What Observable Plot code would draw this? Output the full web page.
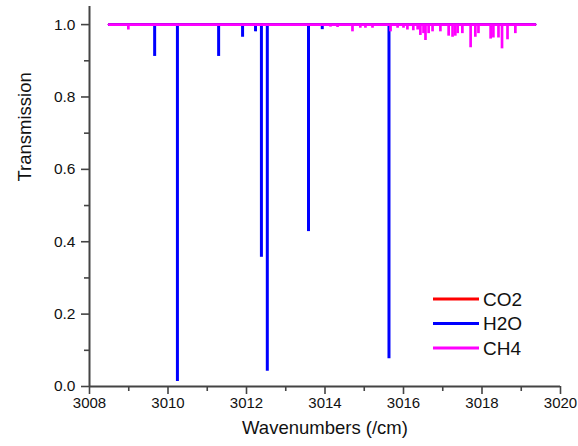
<!DOCTYPE html>
<html>
<head>
<meta charset="utf-8">
<script src="https://cdn.jsdelivr.net/npm/d3@7"></script>
<script src="https://cdn.jsdelivr.net/npm/@observablehq/plot@0.6"></script>
<style>
  html, body { margin: 0; padding: 0; background: #fff; }
  #wrap { position: relative; width: 578px; height: 446px; font-family: "Liberation Sans", Arial, sans-serif; }
  #legend { position: absolute; left: 430px; top: 287px; }
</style>
</head>
<body>
<div id="wrap"><div id="chart"></div><div id="legend"></div></div>
<script>
// Species and colours
const species = ["CO2", "H2O", "CH4"];
const colors = ["#ff0000", "#0000ff", "#ff00ff"];

// Spectral window covered by the simulation (baseline transmission = 1)
const rangeStart = [3008.5, 3008.5, 3008.5];
const rangeEnd = [3019.35, 3019.35, 3019.35];
const baseline = 1.0;

// CO2: no visible absorption lines in this window
const co2Wn = [];
const co2T = [];

// H2O absorption lines (wavenumber, minimum transmission)
const h2oWn = [3009.66, 3010.24, 3011.29, 3011.90, 3012.23, 3012.38, 3012.53, 3013.58, 3013.93, 3015.63];
const h2oT  = [0.912,   0.014,   0.912,   0.965,   0.98,    0.357,   0.042,   0.428,   0.986,   0.077];

// CH4 absorption lines
const ch4Wn = [3008.99, 3010.05, 3010.85, 3011.60, 3012.90, 3014.14, 3014.32, 3014.70, 3014.90, 3015.03,
               3015.21, 3015.67, 3015.85, 3016.00, 3016.10, 3016.25, 3016.36, 3016.43, 3016.51, 3016.56,
               3016.64, 3016.74, 3016.94, 3017.15, 3017.25, 3017.32, 3017.38, 3017.50, 3017.71, 3017.83,
               3017.91, 3018.22, 3018.29, 3018.42, 3018.51, 3018.65, 3018.85];
const ch4T  = [0.985, 0.995, 0.995, 0.995, 0.995, 0.993, 0.992, 0.98, 0.99, 0.99,
               0.99, 0.98, 0.99, 0.99, 0.985, 0.983, 0.985, 0.97, 0.975, 0.956,
               0.975, 0.98, 0.98, 0.968, 0.965, 0.968, 0.975, 0.975, 0.936, 0.965,
               0.975, 0.96, 0.963, 0.963, 0.933, 0.958, 0.975];

// Axis ticks
const xTicks = [3008, 3010, 3012, 3014, 3016, 3018, 3020];
const xMinor = [3009, 3011, 3013, 3015, 3017, 3019];
const yTicks = [0, 0.2, 0.4, 0.6, 0.8, 1.0];
const yMinor = [0.1, 0.3, 0.5, 0.7, 0.9];
const xDomain = [3008, 3020];
const yDomain = [0, 1.05];

const linesOf = (wn, t, name) => wn.map((w, i) => ({wn: w, t: t[i], species: name}));
const co2 = linesOf(co2Wn, co2T, "CO2");
const h2o = linesOf(h2oWn, h2oT, "H2O");
const ch4 = linesOf(ch4Wn, ch4T, "CH4");
const baselines = species.map((s, i) => [
  {wn: rangeStart[i], t: baseline, species: s},
  {wn: rangeEnd[i], t: baseline, species: s}
]);

const axisColor = "#444";
const lineWidths = [2.8, 3, 2.7];
const marks = [];
species.forEach((s, i) => {
  const dips = [co2, h2o, ch4][i];
  marks.push(Plot.ruleX(dips, {x: "wn", y1: "t", y2: baseline, stroke: colors[i], strokeWidth: lineWidths[i]}));
  marks.push(Plot.line(baselines[i], {x: "wn", y: "t", stroke: colors[i], strokeWidth: 2.7}));
});

const chart = Plot.plot({
  width: 578,
  height: 446,
  marginLeft: 89,
  marginRight: 18,
  marginTop: 6,
  marginBottom: 60,
  style: {fontFamily: "'Liberation Sans', Arial, sans-serif", background: "#fff", color: "#111"},
  x: {domain: xDomain},
  y: {domain: yDomain},
  marks: [
    ...marks,
    Plot.axisX({ticks: xTicks, tickSize: 8, tickPadding: 3, fontSize: 15, tickFormat: d => String(d), stroke: axisColor, strokeWidth: 1.6, label: null}),
    Plot.axisX({ticks: xMinor, tickSize: 5, tickFormat: null, text: null, stroke: axisColor, strokeWidth: 1.6, label: null}),
    Plot.axisY({ticks: yTicks, tickSize: 8, tickPadding: 6, fontSize: 15.5, tickFormat: d3.format(".1f"), stroke: axisColor, strokeWidth: 1.6, label: null}),
    Plot.axisY({ticks: yMinor, tickSize: 5, tickFormat: null, text: null, stroke: axisColor, strokeWidth: 1.6, label: null}),
    Plot.ruleX([xDomain[0]], {stroke: axisColor, strokeWidth: 2}),
    Plot.ruleY([yDomain[0]], {stroke: axisColor, strokeWidth: 2}),
    Plot.text(["Transmission"], {frameAnchor: "left", rotate: -90, dx: -64, dy: -15, fontSize: 18.5, fill: "#111"}),
    Plot.text(["Wavenumbers (/cm)"], {frameAnchor: "bottom", dy: 47, fontSize: 18.5, fill: "#111"})
  ]
});
document.getElementById("chart").append(chart);

// Legend inside the plot area (lower right)
const leg = d3.select("#legend").append("svg").attr("width", 130).attr("height", 80)
  .style("font-family", "'Liberation Sans', Arial, sans-serif");
species.forEach((s, i) => {
  const g = leg.append("g").attr("transform", `translate(0, ${12 + i * 24.5})`);
  g.append("line").attr("x1", 3).attr("x2", 49).attr("y1", 0).attr("y2", 0)
    .attr("stroke", colors[i]).attr("stroke-width", 3);
  g.append("text").attr("x", 53).attr("y", 0).attr("dy", "0.35em")
    .attr("font-size", 19).attr("fill", "#111").text(s);
});
</script>
</body>
</html>
